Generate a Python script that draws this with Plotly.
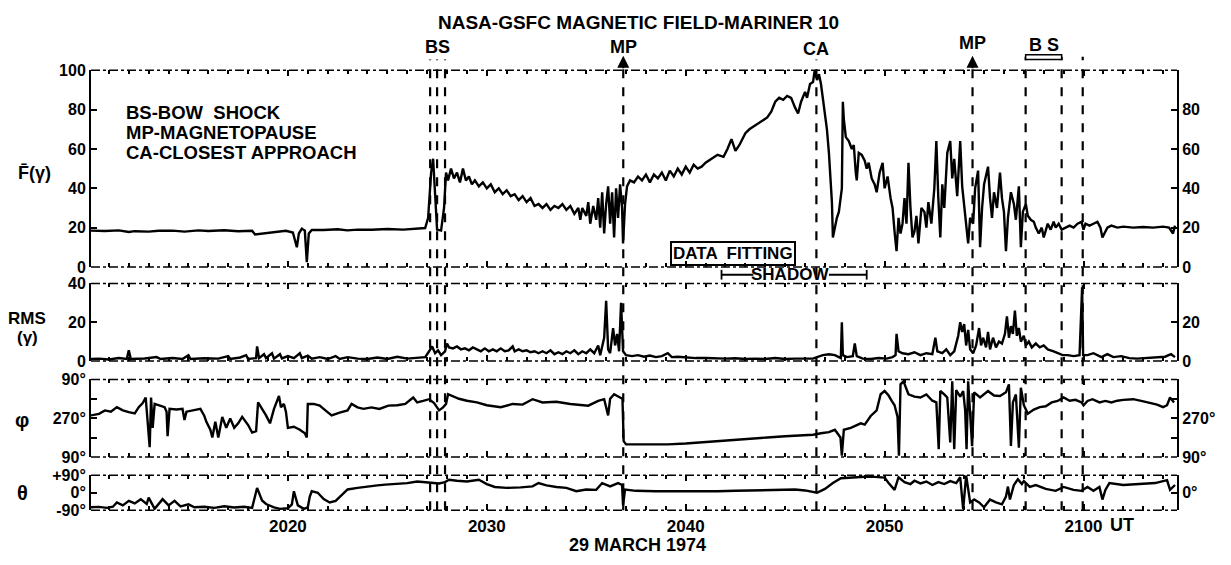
import plotly.graph_objects as go

# ---------------- data (time = minutes after 20:00 UT, 29 March 1974) ----------------
F_SAMPLES = [
    (10.1, 18.5), (10.8, 18.3), (11.5, 18.6), (12.0, 17.8), (12.3, 18.2), (13.0, 18.0), (13.5, 18.4),
    (14.2, 18.5), (14.8, 18.0), (15.5, 18.6), (16.0, 18.3), (16.8, 18.7), (17.5, 18.2), (18.2, 18.4),
    (18.35, 16.5), (18.6, 16.8), (19.0, 17.6), (19.4, 17.8), (19.9, 18.4), (20.25, 17.5), (20.45, 10.0),
    (20.55, 17.0), (20.7, 19.5), (20.85, 18.5), (20.95, 2.5), (21.05, 17.0), (21.2, 18.8), (21.8, 18.8),
    (22.5, 19.2), (23.0, 18.6), (23.5, 19.0), (24.2, 18.9), (25.0, 19.3), (25.8, 19.0), (26.5, 19.5),
    (26.9, 19.8), (27.05, 25), (27.2, 48), (27.3, 55), (27.4, 38), (27.5, 19), (27.7, 18.5), (27.85, 30),
    (27.95, 48), (28.05, 44), (28.2, 50), (28.35, 45), (28.5, 48), (28.65, 43), (28.8, 50), (28.95, 44),
    (29.1, 46), (29.25, 42), (29.4, 44), (29.6, 41), (29.8, 43), (30.0, 40), (30.2, 42), (30.4, 38),
    (30.6, 40), (30.8, 37), (31.0, 39), (31.2, 36), (31.4, 37), (31.6, 34), (31.8, 36), (32.0, 33),
    (32.2, 35), (32.4, 31), (32.6, 32), (32.8, 30), (33.0, 32), (33.2, 29), (33.4, 31), (33.6, 30),
    (33.8, 32), (34.0, 29), (34.2, 31), (34.4, 27), (34.6, 30), (34.7, 24), (34.8, 30), (35.0, 26),
    (35.1, 33), (35.2, 22), (35.35, 31), (35.5, 24), (35.6, 35), (35.7, 20), (35.8, 38), (35.9, 17),
    (36.0, 32), (36.1, 41), (36.2, 22), (36.3, 38), (36.4, 15), (36.5, 40), (36.6, 25), (36.7, 42),
    (36.8, 30), (36.85, 12), (36.95, 32), (37.05, 41), (37.2, 44), (37.4, 43), (37.6, 46), (37.8, 44),
    (38.0, 47), (38.2, 43), (38.4, 47), (38.6, 45), (38.8, 48), (39.0, 44), (39.2, 49), (39.4, 46),
    (39.6, 50), (39.8, 47), (40.0, 51), (40.2, 48), (40.4, 52), (40.6, 50), (40.8, 51), (41.0, 53),
    (41.3, 55), (41.6, 57), (41.9, 56), (42.1, 60), (42.3, 65), (42.5, 59), (42.7, 62), (43.0, 68),
    (43.2, 70), (43.5, 72), (43.8, 74), (44.1, 76), (44.3, 79), (44.5, 84), (44.7, 86), (44.9, 85),
    (45.1, 87), (45.3, 86), (45.5, 81), (45.65, 78), (45.8, 84), (46.0, 89), (46.1, 86), (46.25, 93),
    (46.4, 94), (46.5, 101), (46.6, 95), (46.7, 98), (46.8, 93), (46.9, 86), (47.0, 78), (47.1, 70),
    (47.2, 58), (47.3, 40), (47.35, 33), (47.4, 15), (47.5, 20), (47.6, 25), (47.7, 28), (47.8, 38),
    (47.85, 40), (47.9, 84), (47.95, 75), (48.05, 66), (48.2, 64), (48.35, 60), (48.45, 62), (48.55, 48),
    (48.6, 44), (48.7, 58), (48.85, 57), (49.0, 54), (49.1, 50), (49.2, 53), (49.35, 45), (49.5, 42),
    (49.6, 38), (49.75, 48), (49.9, 53), (50.0, 40), (50.15, 46), (50.3, 35), (50.4, 30), (50.5, 18),
    (50.6, 8), (50.7, 25), (50.8, 17), (50.9, 22), (51.0, 35), (51.1, 22), (51.2, 53), (51.3, 30),
    (51.4, 15), (51.5, 18), (51.6, 26), (51.7, 12), (51.85, 30), (52.0, 28), (52.1, 20), (52.2, 33),
    (52.35, 22), (52.5, 40), (52.6, 64), (52.7, 35), (52.8, 15), (52.9, 42), (53.0, 30), (53.15, 58),
    (53.3, 64), (53.4, 45), (53.5, 55), (53.65, 36), (53.8, 64), (53.9, 41), (54.0, 30), (54.1, 20),
    (54.2, 12), (54.3, 25), (54.45, 22), (54.55, 40), (54.7, 49), (54.8, 10), (54.9, 30), (55.0, 42),
    (55.2, 51), (55.3, 35), (55.4, 25), (55.5, 38), (55.65, 30), (55.8, 48), (55.9, 35), (56.0, 28),
    (56.1, 8), (56.2, 25), (56.35, 38), (56.5, 32), (56.6, 24), (56.75, 41), (56.85, 10), (56.95, 28),
    (57.1, 32), (57.2, 26), (57.35, 24), (57.5, 23), (57.6, 20), (57.75, 17), (57.9, 20), (58.0, 15),
    (58.1, 18), (58.2, 22), (58.35, 19), (58.5, 23), (58.6, 20), (58.75, 22), (58.9, 19), (59.1, 20),
    (59.3, 21), (59.5, 20), (59.7, 22), (59.9, 23), (60.0, 19), (60.1, 22), (60.3, 21), (60.5, 22),
    (60.7, 23), (60.85, 20), (60.95, 15), (61.05, 17), (61.2, 20), (61.4, 21), (61.7, 20), (62.0, 20.5),
    (62.5, 20), (63.0, 20.3), (63.5, 20), (64.0, 20.5), (64.3, 20), (64.5, 17), (64.6, 21),
]

RMS_SAMPLES = [
    (10.1, 1), (10.5, 1.2), (11.0, 0.8), (11.5, 1.5), (11.9, 1), (12.0, 5.5), (12.1, 1), (12.8, 1.3),
    (13.4, 2), (13.6, 1), (14.2, 1.5), (14.7, 1), (15.0, 3), (15.1, 1), (15.8, 1.4), (16.5, 1.2),
    (17.0, 2.5), (17.1, 1), (17.6, 1.8), (17.9, 3), (18.0, 1), (18.4, 1.5), (18.45, 7.5), (18.55, 1.5),
    (18.8, 3.5), (18.9, 1.5), (19.2, 4), (19.3, 1.2), (19.6, 3.5), (19.7, 1.3), (20.0, 2.5), (20.3, 1.5),
    (20.6, 4), (20.7, 1.5), (21.0, 2.8), (21.2, 1.2), (21.6, 2), (22.0, 1), (22.4, 2.5), (22.6, 1),
    (23.0, 2), (23.5, 1.2), (24.0, 1), (24.5, 1.8), (25.0, 1), (25.5, 2.2), (26.0, 1.2), (26.5, 1.5),
    (26.9, 2), (27.1, 5), (27.25, 7.5), (27.4, 4), (27.55, 5.5), (27.7, 3), (27.9, 5), (28.0, 9),
    (28.1, 7), (28.3, 6.5), (28.5, 7.5), (28.7, 6), (28.9, 6.5), (29.1, 5.5), (29.3, 7), (29.5, 6),
    (29.7, 5), (29.9, 6.5), (30.1, 5), (30.3, 6), (30.5, 5), (30.7, 6.5), (30.9, 5), (31.1, 5.5),
    (31.3, 7.5), (31.4, 5), (31.6, 6), (31.8, 5), (32.0, 5.5), (32.2, 4.5), (32.4, 5), (32.6, 4),
    (32.8, 5), (33.0, 4), (33.2, 5.5), (33.4, 3.5), (33.6, 4.5), (33.8, 3.5), (34.0, 5), (34.2, 4),
    (34.4, 5.5), (34.6, 3.5), (34.8, 5), (35.0, 4), (35.2, 6), (35.4, 4), (35.6, 8), (35.7, 3),
    (35.9, 12), (36.0, 31), (36.1, 6), (36.2, 4), (36.35, 17), (36.45, 8), (36.55, 14), (36.65, 5),
    (36.75, 30), (36.85, 5), (37.0, 3), (37.3, 2.5), (37.6, 3), (37.9, 2.2), (38.2, 2.8), (38.5, 2),
    (38.8, 2.5), (39.1, 4), (39.3, 2), (39.6, 2.2), (40.0, 1.8), (40.5, 1.5), (41.0, 1.5), (41.5, 1.3),
    (42.0, 1.2), (42.5, 1.4), (43.0, 1), (43.5, 1.2), (44.0, 1), (44.5, 1.5), (45.0, 1), (45.5, 1.2),
    (46.0, 1), (46.4, 1.2), (46.6, 2), (46.9, 3), (47.2, 3.5), (47.5, 3), (47.7, 2), (47.8, 1.5),
    (47.85, 20), (47.9, 3), (48.1, 2), (48.4, 2.5), (48.5, 9), (48.6, 2.5), (48.9, 1.2), (49.3, 1),
    (49.7, 1.5), (50.1, 1.2), (50.4, 2), (50.55, 3), (50.6, 14), (50.7, 5), (50.9, 4), (51.2, 3.5),
    (51.5, 4.5), (51.8, 3), (52.1, 4), (52.4, 3.5), (52.55, 12), (52.65, 5), (52.9, 4), (53.1, 6),
    (53.3, 3), (53.5, 5), (53.7, 13), (53.8, 20), (53.9, 15), (54.0, 19), (54.1, 8), (54.2, 16),
    (54.3, 6), (54.45, 4), (54.6, 8), (54.75, 17), (54.85, 8), (54.95, 12), (55.1, 7), (55.2, 15),
    (55.3, 6), (55.45, 12), (55.6, 7), (55.75, 10), (55.9, 9), (56.05, 14), (56.15, 23), (56.25, 12),
    (56.35, 18), (56.45, 14), (56.55, 26), (56.65, 13), (56.75, 17), (56.85, 10), (57.0, 13), (57.1, 8),
    (57.25, 10), (57.4, 7), (57.6, 9), (57.8, 7), (58.0, 8), (58.2, 6), (58.5, 5), (58.7, 4),
    (58.95, 3), (59.2, 3), (59.5, 2.5), (59.8, 3), (59.93, 38), (59.98, 3), (60.2, 3), (60.5, 4),
    (60.7, 3), (60.9, 2), (61.2, 3.5), (61.5, 2), (61.9, 2.5), (62.3, 1.5), (62.7, 1.2), (63.2, 1.5),
    (63.7, 1.8), (64.1, 2.2), (64.4, 3.5), (64.6, 2),
]

# azimuth phi drawn on a 90..450 deg scale (top 90 deg = 450)
PHI_SAMPLES = [
    (10.1, 283), (10.5, 290), (10.8, 306), (11.1, 300), (11.4, 321), (11.7, 306), (12.0, 298),
    (12.3, 292), (12.5, 321), (12.7, 340), (12.85, 366), (12.95, 238), (13.05, 135), (13.12, 366),
    (13.2, 225), (13.3, 336), (13.6, 325), (13.8, 321), (13.9, 300), (13.95, 186), (14.05, 313),
    (14.4, 310), (14.7, 313), (14.8, 261), (14.9, 300), (15.3, 306), (15.6, 313), (15.8, 280),
    (15.9, 253), (16.1, 216), (16.2, 180), (16.35, 253), (16.5, 180), (16.7, 276), (16.9, 225),
    (17.1, 268), (17.3, 225), (17.5, 246), (17.7, 276), (18.0, 238), (18.2, 203), (18.4, 210),
    (18.5, 343), (18.7, 313), (18.9, 283), (19.1, 246), (19.3, 313), (19.55, 373), (19.65, 321),
    (19.8, 336), (19.9, 300), (20.0, 225), (20.3, 230), (20.6, 216), (20.85, 200), (20.95, 180),
    (21.0, 336), (21.3, 336), (21.6, 328), (21.9, 305), (22.2, 283), (22.6, 296), (23.0, 306),
    (23.2, 336), (23.5, 320), (23.8, 313), (24.2, 320), (24.6, 313), (25.05, 328), (25.5, 330),
    (25.9, 336), (26.3, 366), (26.5, 343), (26.8, 350), (27.1, 358), (27.35, 340), (27.6, 306),
    (27.8, 320), (27.95, 336), (28.05, 381), (28.3, 373), (28.6, 360), (29.0, 351), (29.5, 343),
    (30.0, 330), (30.7, 321), (31.3, 336), (31.8, 333), (32.3, 358), (32.8, 343), (33.5, 346),
    (34.2, 336), (35.1, 328), (35.6, 350), (35.9, 358), (36.1, 283), (36.2, 360), (36.4, 381),
    (36.7, 366), (36.82, 360), (36.88, 163), (37.0, 148), (38.0, 148), (39.1, 148), (40.0, 152),
    (41.0, 158), (41.6, 165), (42.5, 170), (43.3, 175), (44.1, 180), (45.0, 186), (45.8, 190),
    (46.4, 193), (46.8, 200), (47.2, 205), (47.5, 216), (47.7, 190), (47.78, 180), (47.85, 96),
    (47.95, 216), (48.3, 225), (48.8, 246), (49.0, 240), (49.3, 280), (49.6, 306), (49.8, 381),
    (50.0, 396), (50.2, 375), (50.35, 351), (50.5, 330), (50.65, 276), (50.72, 96), (50.8, 427),
    (50.95, 441), (51.2, 381), (51.5, 370), (51.8, 366), (52.1, 380), (52.4, 351), (52.6, 343),
    (52.72, 126), (52.8, 396), (53.0, 380), (53.15, 366), (53.3, 157), (53.4, 441), (53.5, 126),
    (53.6, 400), (53.8, 370), (53.95, 396), (54.05, 306), (54.12, 126), (54.2, 441), (54.3, 261),
    (54.4, 140), (54.5, 390), (54.8, 366), (55.2, 396), (55.5, 375), (55.8, 373), (56.1, 390),
    (56.25, 427), (56.35, 141), (56.45, 343), (56.6, 380), (56.75, 133), (56.85, 411), (57.0, 330),
    (57.2, 291), (57.5, 310), (57.8, 321), (58.1, 325), (58.4, 343), (58.7, 350), (59.0, 366),
    (59.3, 351), (59.6, 355), (59.9, 343), (60.0, 330), (60.2, 350), (60.45, 358), (60.8, 343),
    (61.1, 350), (61.4, 343), (61.7, 351), (62.0, 355), (62.5, 358), (62.9, 350), (63.3, 343),
    (63.7, 333), (64.0, 321), (64.2, 330), (64.35, 366), (64.55, 343),
]

THETA_SAMPLES = [
    (10.1, -75), (10.5, -73), (10.9, -78), (11.2, -72), (11.4, -50), (11.7, -65), (12.0, -42),
    (12.3, -55), (12.6, -33), (12.9, -58), (13.0, -25), (13.3, -83), (13.7, -33), (14.0, -65),
    (14.3, -42), (14.6, -70), (15.0, -60), (15.3, -75), (15.8, -72), (16.3, -78), (16.8, -70),
    (17.3, -76), (17.8, -72), (18.2, -78), (18.45, 25), (18.7, -40), (18.9, -58), (19.3, -75),
    (19.6, -83), (20.0, -80), (20.2, -60), (20.3, 8), (20.5, -65), (20.8, -83), (21.0, -75),
    (21.1, -20), (21.2, 8), (21.5, 0), (21.8, -33), (22.1, -50), (22.4, -42), (22.7, -10),
    (23.0, 17), (23.5, 25), (24.0, 33), (24.5, 38), (24.9, 42), (25.5, 45), (26.0, 50), (26.5, 58),
    (27.0, 52), (27.25, 50), (27.6, 48), (27.9, 55), (28.1, 67), (28.5, 62), (29.0, 58), (29.6, 67),
    (30.0, 45), (30.4, 30), (31.0, 25), (31.7, 28), (32.3, 33), (32.6, 50), (33.0, 38), (33.5, 30),
    (34.0, 25), (34.5, 8), (35.0, 17), (35.5, 15), (35.8, 50), (36.2, 33), (36.6, 50), (36.8, 40),
    (36.85, -65), (36.95, 17), (37.5, 10), (38.5, 8), (39.5, 8), (40.5, 5), (41.6, 8), (42.5, 10),
    (43.5, 12), (44.5, 17), (45.5, 17), (46.0, 12), (46.6, 0), (47.0, 20), (47.4, 50), (47.8, 75),
    (48.5, 80), (49.0, 83), (49.5, 82), (50.0, 78), (50.2, 50), (50.5, 15), (50.7, 80), (51.0, 55),
    (51.3, 45), (51.5, 62), (51.8, 48), (52.1, 58), (52.4, 40), (52.7, 55), (53.0, 45), (53.3, 60),
    (53.6, 50), (53.8, 80), (53.95, -85), (54.1, 90), (54.3, -50), (54.5, -35), (54.75, -50),
    (55.0, -75), (55.3, -35), (55.6, -50), (55.9, -60), (56.1, -20), (56.2, 32), (56.3, -35),
    (56.5, 40), (56.7, 70), (56.9, 45), (57.0, 60), (57.3, 30), (57.6, 40), (58.1, 20), (58.6, 10),
    (59.0, 30), (59.5, 15), (59.9, 10), (60.2, 30), (60.5, 10), (60.8, 30), (60.95, -35), (61.1, 15),
    (61.3, 50), (62.0, 40), (62.8, 45), (63.6, 50), (64.2, 65), (64.35, 15), (64.6, 40),
]

# event times (minutes after 20:00 UT)
BS_INBOUND = [27.15, 27.5, 27.9]
MP_INBOUND = 36.86
CA_TIME = 46.57
MP_OUTBOUND = 54.42
BS_OUTBOUND = [57.09, 58.9, 59.96]
SHADOW = (41.8, 49.1)
DATA_FITTING_CENTER = 42.4

X_TICKS = [20, 30, 40, 50, 60]
X_TICKTEXT = ["2020", "2030", "2040", "2050", "2100"]
X_RANGE = [10.1, 64.7]

# ---------------- layout helpers ----------------
# The page body keeps its default 8px margin, so the figure is drawn 16px
# smaller than the window and every page position is shifted by 8px.
PAGE_W, PAGE_H = 1231, 565
BODY_MARGIN = 8
W, H = PAGE_W - 2 * BODY_MARGIN, PAGE_H - 2 * BODY_MARGIN
FONT = "Liberation Sans, Arial, sans-serif"


def py(px):
    return 1 - (px - BODY_MARGIN) / H


def px_x(px):
    return (px - BODY_MARGIN) / W


def pdom(top, bottom):
    return [py(bottom), py(top)]


XDOM = [px_x(91), px_x(1177)]
PANELS = {  # page-pixel extents of each panel
    "F": (64, 267),
    "RMS": (284, 364),
    "PHI": (383, 463),
    "TH": (482, 518),
}

fig = go.Figure()

line_style = dict(color="black", width=2.4)


def add_series(samples, xa, ya):
    t = [s[0] for s in samples]
    v = [s[1] for s in samples]
    fig.add_trace(go.Scatter(x=t, y=v, mode="lines", line=line_style, xaxis=xa, yaxis=ya,
                             hoverinfo="skip"))


add_series(F_SAMPLES, "x", "y")
add_series(RMS_SAMPLES, "x2", "y2")
add_series(PHI_SAMPLES, "x3", "y3")
add_series(THETA_SAMPLES, "x4", "y4")
for xa, ya in [("x", "y5"), ("x2", "y6"), ("x3", "y7"), ("x4", "y8")]:
    fig.add_trace(go.Scatter(x=[], y=[], xaxis=xa, yaxis=ya, showlegend=False))

tickfont = dict(family=FONT, size=16, color="black", weight="bold")

ycommon = dict(showgrid=False, zeroline=False, showline=True, linecolor="black", linewidth=2,
               ticks="inside", ticklen=6, tickwidth=2, tickcolor="black", tickfont=tickfont,
               fixedrange=True)

xcommon = dict(range=X_RANGE, domain=XDOM, showgrid=False, zeroline=False, showline=True,
               linecolor="rgba(0,0,0,0)", linewidth=1, mirror="ticks",
               ticks="inside", ticklen=6, tickwidth=1.5, tickcolor="black",
               tickvals=X_TICKS, ticktext=X_TICKTEXT, tickfont=dict(tickfont, size=17),
               minor=dict(dtick=1, tick0=0, ticks="inside", ticklen=4, tickwidth=1.5, tickcolor="black"),
               fixedrange=True)

fig.update_layout(
    width=W, height=H, margin=dict(l=0, r=0, t=0, b=0),
    paper_bgcolor="white", plot_bgcolor="white", showlegend=False,
    font=dict(family=FONT, size=17, color="black", weight="bold"),
    xaxis=dict(xcommon, anchor="y", showticklabels=False),
    xaxis2=dict(xcommon, anchor="y2", matches="x", showticklabels=False),
    xaxis3=dict(xcommon, anchor="y3", matches="x", showticklabels=False),
    xaxis4=dict(xcommon, anchor="y4", matches="x", showticklabels=True),
    yaxis=dict(ycommon, domain=pdom(*PANELS["F"]), anchor="x", range=[0, 100],
               tickvals=[0, 20, 40, 60, 80, 100]),
    yaxis5=dict(ycommon, overlaying="y", side="right", anchor="x", range=[0, 100],
                tickvals=[0, 20, 40, 60, 80]),
    yaxis2=dict(ycommon, domain=pdom(*PANELS["RMS"]), anchor="x2", range=[0, 40],
                tickvals=[0, 20, 40]),
    yaxis6=dict(ycommon, overlaying="y2", side="right", anchor="x2", range=[0, 40],
                tickvals=[0, 20]),
    yaxis3=dict(ycommon, domain=pdom(*PANELS["PHI"]), anchor="x3", range=[90, 450],
                tickvals=[90, 180, 270, 360, 450], ticktext=["90°", "", "270°", "", "90°"]),
    yaxis7=dict(ycommon, overlaying="y3", side="right", anchor="x3", range=[90, 450],
                tickvals=[90, 180, 270, 360], ticktext=["90°", "", "270°", ""]),
    yaxis4=dict(ycommon, domain=pdom(*PANELS["TH"]), anchor="x4", range=[-90, 90],
                tickvals=[-90, 0, 90], ticktext=["-90°", "0°", "+90°"]),
    yaxis8=dict(ycommon, overlaying="y4", side="right", anchor="x4", range=[-90, 90],
                tickvals=[0], ticktext=["0°"]),
)

shapes = []
for xa, ya in [("x", "y"), ("x2", "y2"), ("x3", "y3"), ("x4", "y4")]:
    for yv in (0, 1):
        shapes.append(dict(type="line", xref=f"{xa} domain", yref=f"{ya} domain",
                           x0=0, x1=1, y0=yv, y1=yv,
                           line=dict(color="black", width=1.5, dash="dashdot")))

top_line = py(53)
bot_line = py(518)
for t in BS_INBOUND + [MP_INBOUND, CA_TIME, MP_OUTBOUND] + BS_OUTBOUND:
    shapes.append(dict(type="line", xref="x", yref="paper", x0=t, x1=t, y0=bot_line,
                       y1=py(50) if t in BS_OUTBOUND else top_line,
                       line=dict(color="black", width=2.2, dash="dash")))

shapes.append(dict(type="rect", xref="x", yref="paper", x0=BS_OUTBOUND[0], x1=BS_OUTBOUND[1],
                   y0=py(53), y1=py(48), line=dict(color="black", width=1.5), fillcolor="white"))

sy = py(275)
shapes += [
    dict(type="line", xref="x", yref="paper", x0=SHADOW[0], x1=SHADOW[0] + 1.6, y0=sy, y1=sy,
         line=dict(color="black", width=1.8)),
    dict(type="line", xref="x", yref="paper", x0=SHADOW[1] - 1.9, x1=SHADOW[1], y0=sy, y1=sy,
         line=dict(color="black", width=1.8)),
    dict(type="line", xref="x", yref="paper", x0=SHADOW[0], x1=SHADOW[0], y0=py(280), y1=py(270),
         line=dict(color="black", width=1.8)),
    dict(type="line", xref="x", yref="paper", x0=SHADOW[1], x1=SHADOW[1], y0=py(280), y1=py(270),
         line=dict(color="black", width=1.8)),
]
fig.update_layout(shapes=shapes)

ann = []


def text(x, y, s, size=17, xref="paper", xanchor="center", **kw):
    ann.append(dict(x=x, y=y, xref=xref, yref="paper", text=s, showarrow=False,
                    xanchor=xanchor, yanchor="middle",
                    font=dict(family=FONT, size=size, color="black", weight="bold"), **kw))


text(px_x(638), py(15), "NASA-GSFC MAGNETIC FIELD-MARINER 10", size=19)
text(BS_INBOUND[1], py(40), "BS", xref="x", size=18)
text(MP_INBOUND, py(40), "MP", xref="x", size=18)
text(CA_TIME, py(42), "CA", xref="x", size=18)
text(MP_OUTBOUND, py(36), "MP", xref="x", size=18)
text((BS_OUTBOUND[0] + BS_OUTBOUND[1]) / 2, py(38), "B S", xref="x", size=18)

text(px_x(124), py(108), "BS-BOW  SHOCK", size=18.5, xanchor="left")
text(px_x(124), py(128), "MP-MAGNETOPAUSE", size=18.5, xanchor="left")
text(px_x(124), py(149), "CA-CLOSEST APPROACH", size=18.5, xanchor="left")

text(DATA_FITTING_CENTER, py(253), "DATA  FITTING", xref="x", size=17,
     bordercolor="black", borderwidth=2, borderpad=1)
text((SHADOW[0] + SHADOW[1]) / 2 - 0.2, py(275), "SHADOW", xref="x", size=17)

text(px_x(34), py(170), "F\u0304(γ)", size=18)
text(px_x(27), py(320), "RMS", size=17)
text(px_x(27), py(340), "(γ)", size=17)
text(px_x(22), py(425), "φ", size=20)
text(px_x(22), py(500), "θ", size=20)

text(px_x(637), py(554), "29 MARCH 1974", size=18)
text(px_x(1122), py(533), "UT", size=18)

for t in (MP_INBOUND, MP_OUTBOUND):
    ann.append(dict(x=t, y=py(49), xref="x", yref="paper", ax=0, ay=14, showarrow=True,
                    arrowhead=2, arrowsize=1.2, arrowwidth=2, arrowcolor="black", text=""))

fig.update_layout(annotations=ann, hovermode=False)

fig.write_html("out.html")
